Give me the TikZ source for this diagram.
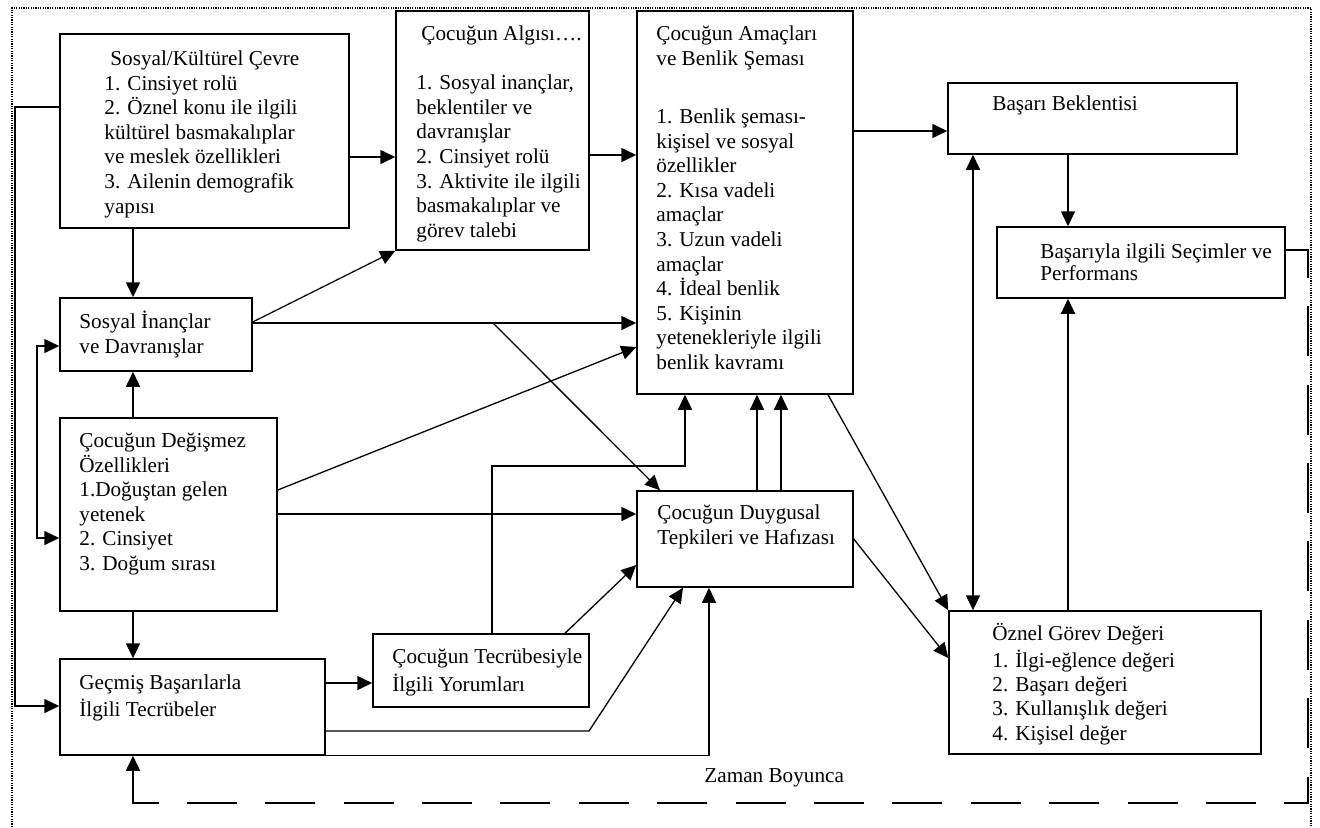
\documentclass[tikz,border=0pt]{standalone}
\usepackage{fontspec}
\setmainfont{Liberation Serif}
\usetikzlibrary{arrows.meta,fit}
\begin{document}
\begin{tikzpicture}[x=0.5pt,y=-0.5pt,
  box/.style={draw, line width=0.75pt, inner sep=0pt},
  txt/.style={anchor=north west, inner sep=0pt, align=left, font=\fontsize{10.6}{12.3}\selectfont},
  arr/.style={line width=0.8pt, -{Triangle[length=7.5pt,width=7pt]}},
  arrboth/.style={line width=0.8pt, {Triangle[length=7.5pt,width=7pt]}-{Triangle[length=7.5pt,width=7pt]}},
  thinarr/.style={line width=0.65pt, -{Triangle[length=7.5pt,width=7pt]}},
  dsh/.style={line width=0.9pt, dash pattern=on 25pt off 14.2pt},
  dotborder/.style={line width=0.6pt, dash pattern=on 0.6pt off 0.6pt},
]
\useasboundingbox (0,0) rectangle (1320,827);
\draw[dotborder] (12,827) -- (12,8) -- (1311,8) -- (1311,827);

% boxes
\node[box, fit={(60,34) (349,228)}] (kul) {};
\node[box, fit={(396,11) (589,250)}] (alg) {};
\node[box, fit={(637,11) (853,394)}] (ama) {};
\node[box, fit={(948,83) (1237,154)}] (bek) {};
\node[box, fit={(997,227) (1285,298)}] (bas) {};
\node[box, fit={(60,298) (252,371)}] (sin) {};
\node[box, fit={(60,418) (277,611)}] (deg) {};
\node[box, fit={(60,659) (325,755)}] (gec) {};
\node[box, fit={(373,634) (589,707)}] (tec) {};
\node[box, fit={(637,491) (853,587)}] (duy) {};
\node[box, fit={(949,611) (1261,754)}] (ozn) {};

% texts
\node[txt] (kulT) at (104,47.8) {\strut\hspace*{3pt}Sosyal/Kültürel Çevre\\1. Cinsiyet rolü\\2. Öznel konu ile ilgili\\kültürel basmakalıplar\\ve meslek özellikleri\\3. Ailenin demografik\\yapısı};
\node[txt] (algT) at (416,22.8) {\strut\hspace*{2.5pt}Çocuğun Algısı….\\[12.3pt]1. Sosyal inançlar,\\beklentiler ve\\davranışlar\\2. Cinsiyet rolü\\3. Aktivite ile ilgili\\basmakalıplar ve\\görev talebi};
\node[txt] (amaT) at (656,22.8) {\strut Çocuğun Amaçları\\ve Benlik Şeması\\[16.9pt]1. Benlik şeması-\\kişisel ve sosyal\\özellikler\\2. Kısa vadeli\\amaçlar\\3. Uzun vadeli\\amaçlar\\4. İdeal benlik\\5. Kişinin\\yetenekleriyle ilgili\\benlik kavramı};
\node[txt] (bekT) at (992,92.8) {\strut Başarı Beklentisi};
\node[txt, font=\fontsize{10.6}{10.8}\selectfont] (basT) at (1040,242.9) {\strut Başarıyla ilgili Seçimler ve\\Performans};
\node[txt] (sinT) at (79,310.8) {\strut Sosyal İnançlar\\ve Davranışlar};
\node[txt] (degT) at (79,429.8) {\strut Çocuğun Değişmez\\Özellikleri\\1.Doğuştan gelen\\yetenek\\2. Cinsiyet\\3. Doğum sırası};
\node[txt] (gecT) at (79,671.8) {\strut Geçmiş Başarılarla\\İlgili Tecrübeler};
\node[txt, font=\fontsize{10.6}{14.2}\selectfont] (tecT) at (392,643.1) {\strut Çocuğun Tecrübesiyle\\İlgili Yorumları};
\node[txt] (duyT) at (657,501.8) {\strut Çocuğun Duygusal\\Tepkileri ve Hafızası};
\node[txt, font=\fontsize{10.6}{12.15}\selectfont] (oznT) at (992,622.8) {\strut Öznel Görev Değeri\\1. İlgi-eğlence değeri\\2. Başarı değeri\\3. Kullanışlık değeri\\4. Kişisel değer};
\node[txt] (zaman) at (704,764.8) {\strut Zaman Boyunca};

% connectors
\draw[arr] (kul.east |- 0,157) -- (alg.west |- 0,157);
\draw[arr] (kul.south -| 133,0) -- (sin.north -| 133,0);
\draw[arr] (deg.north -| 133,0) -- (sin.south -| 133,0);
\draw[arr] (deg.south -| 133,0) -- (gec.north -| 133,0);
\draw[thinarr] (sin.east |- 0,322) -- (alg.south west);
\draw[arr] (sin.east |- 0,323) -- (ama.west |- 0,323);
\coordinate (br) at (493,323);
\draw[thinarr] (br) -- (duy.north -| 660,0);
\draw[thinarr] (deg.east |- 0,490) -- (ama.west |- 0,347);
\draw[arr] (deg.east |- 0,514) -- (duy.west |- 0,514);
\draw[arr] (alg.east |- 0,155) -- (ama.west |- 0,155);
\draw[arr] (ama.east |- 0,131) -- (bek.west |- 0,131);
\draw[arr] (bek.south -| 1068,0) -- (bas.north -| 1068,0);
\draw[arr] (ozn.north -| 1068,0) -- (bas.south -| 1068,0);
\draw[arrboth] (bek.south -| 973,0) -- (ozn.north -| 973,0);
\draw[thinarr] (ama.south -| 828,0) -- (ozn.north west);
\draw[thinarr] (duy.east |- 0,539) -- (ozn.west |- 0,658);
\draw[thinarr] (duy.north -| 757,0) -- (ama.south -| 757,0);
\draw[thinarr] (duy.north -| 781,0) -- (ama.south -| 781,0);
\draw[thinarr] (tec.north -| 492,0) |- (685,466) -- (ama.south -| 685,0);
\draw[thinarr] (tec.north -| 565,0) -- (duy.west |- 0,565);
\draw[arr] (gec.east |- 0,683) -- (tec.west |- 0,683);
\draw[thinarr] (gec.east |- 0,731) -- (589,731) -- (duy.south -| 683,0);
\draw[thinarr] (gec.south east) -| (duy.south -| 709,0);
\draw[arr] (kul.west |- 0,107) -- (15,107) |- (gec.west |- 0,706);
\draw[arrboth] (sin.west |- 0,346) -- (37,346) |- (deg.west |- 0,538);
\coordinate (dEnd) at (158,803);
\draw[dsh] (bas.east |- 0,250) -- (1308,250) -- (1308,803) -- (dEnd);
\draw[arr] (dEnd) -- (133,803) -- (gec.south -| 133,0);
\end{tikzpicture}
\end{document}
